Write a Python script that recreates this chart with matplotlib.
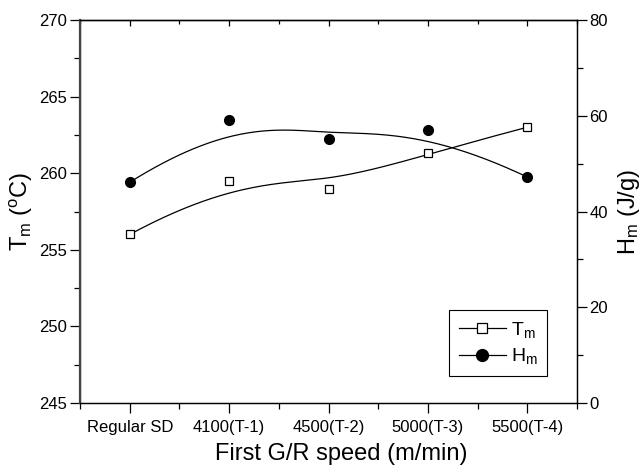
import numpy as np
import matplotlib
matplotlib.use("Agg")
import matplotlib.pyplot as plt
from matplotlib.ticker import MultipleLocator, FixedLocator

plt.rcParams['font.family'] = ['Liberation Sans', 'DejaVu Sans']
plt.rcParams['mathtext.fontset'] = 'custom'
plt.rcParams['mathtext.rm'] = 'Liberation Sans'
plt.rcParams['mathtext.it'] = 'Liberation Sans:italic'

speeds = ['Regular SD', '4100(T-1)', '4500(T-2)', '5000(T-3)', '5500(T-4)']
tm = [256.0, 259.5, 259.0, 261.3, 263.0]
hm = [46.1, 59.1, 55.1, 57.0, 47.2]


def bspline(px, py, n=200):
    # clamped cubic B-spline with the points as control points
    px = np.asarray(px, float)
    py = np.asarray(py, float)
    k = 3
    m = len(px)
    inner = np.linspace(0, 1, m - k + 1)[1:-1]
    knots = np.concatenate([[0] * (k + 1), inner, [1] * (k + 1)])
    t = np.linspace(0, 1, n)
    t[-1] = 1 - 1e-9

    def basis(i, d, t):
        if d == 0:
            return ((knots[i] <= t) & (t < knots[i + 1])).astype(float)
        a = 0.0
        b = 0.0
        if knots[i + d] != knots[i]:
            a = (t - knots[i]) / (knots[i + d] - knots[i]) * basis(i, d - 1, t)
        if knots[i + d + 1] != knots[i + 1]:
            b = (knots[i + d + 1] - t) / (knots[i + d + 1] - knots[i + 1]) * basis(i + 1, d - 1, t)
        return a + b

    B = np.array([basis(i, k, t) for i in range(m)])
    return B.T @ px, B.T @ py


x = np.arange(len(speeds))

fig = plt.figure(figsize=(6.43, 4.68), dpi=100)
ax = fig.add_axes([80 / 643, 65 / 468, 497 / 643, 383 / 468])
ax2 = ax.twinx()

sx, sy = bspline(x, tm)
ax.plot(sx, sy, color='black', lw=0.9)
ax.plot(x, tm, ls='none', marker='s', ms=5.5, mfc='white', mec='black', mew=0.9)
hx, hy = bspline(x, hm)
ax2.plot(hx, hy, color='black', lw=0.9)
ax2.plot(x, hm, ls='none', marker='o', ms=7, color='black')

# legend proxies
l1, = ax.plot([], [], color='black', lw=0.9, marker='s', ms=6.5, mfc='white', mec='black', mew=0.9)
l2, = ax.plot([], [], color='black', lw=0.9, marker='o', ms=8.5)
leg = ax.legend([l1, l2], [r'T$_\mathrm{m}$', r'H$_\mathrm{m}$'], loc='lower right',
                bbox_to_anchor=(0.94, 0.07), borderaxespad=0, fontsize=14, fancybox=False,
                framealpha=1, edgecolor='black', handlelength=2.4, borderpad=0.5,
                labelspacing=0.35, handletextpad=0.25)
leg.get_frame().set_linewidth(0.8)

ax.set_xlim(-0.5, 4.5)
ax.set_ylim(245, 270)
ax2.set_ylim(0, 80)

ax.set_xticks(x)
ax.set_xticklabels(speeds)
ax.xaxis.set_minor_locator(FixedLocator(np.arange(-0.5, 4.6, 1.0)))
ax.yaxis.set_major_locator(MultipleLocator(5))
ax.yaxis.set_minor_locator(MultipleLocator(2.5))
ax2.yaxis.set_major_locator(MultipleLocator(20))
ax2.yaxis.set_minor_locator(MultipleLocator(10))

ax.tick_params(axis='both', which='both', direction='out', labelsize=12, width=0.9, pad=2)
ax.tick_params(which='major', length=7)
ax.tick_params(which='minor', length=4)
ax.tick_params(axis='x', which='major', pad=5)
ax2.tick_params(axis='y', which='both', direction='out', labelsize=12, width=0.9, pad=2)
ax2.tick_params(which='major', length=7)
ax2.tick_params(which='minor', length=4)

# top ticks point inward
top = ax.secondary_xaxis('top')
top.set_xticks(x)
top.xaxis.set_minor_locator(FixedLocator(np.arange(-0.5, 4.6, 1.0)))
top.tick_params(which='both', direction='in', labeltop=False, width=0.9)
top.tick_params(which='major', length=4)
top.tick_params(which='minor', length=3)
top.spines['top'].set_linewidth(0.9)

for s in ax.spines.values():
    s.set_linewidth(0.9)
for s in ax2.spines.values():
    s.set_linewidth(0.9)
ax2.spines['left'].set_linewidth(1.6)
ax2.spines['left'].set_color('#444444')

ax.set_xlabel('First G/R speed (m/min)', fontsize=17)
ax.xaxis.set_label_coords(0.525, -0.105)
ax.set_ylabel(r'T$_\mathrm{m}$ ($^\mathrm{o}$C)', fontsize=17)
ax.yaxis.set_label_coords(-0.09, 0.5)
ax2.set_ylabel(r'H$_\mathrm{m}$ (J/g)', fontsize=17, labelpad=6)

fig.savefig('out.png', dpi=100)
